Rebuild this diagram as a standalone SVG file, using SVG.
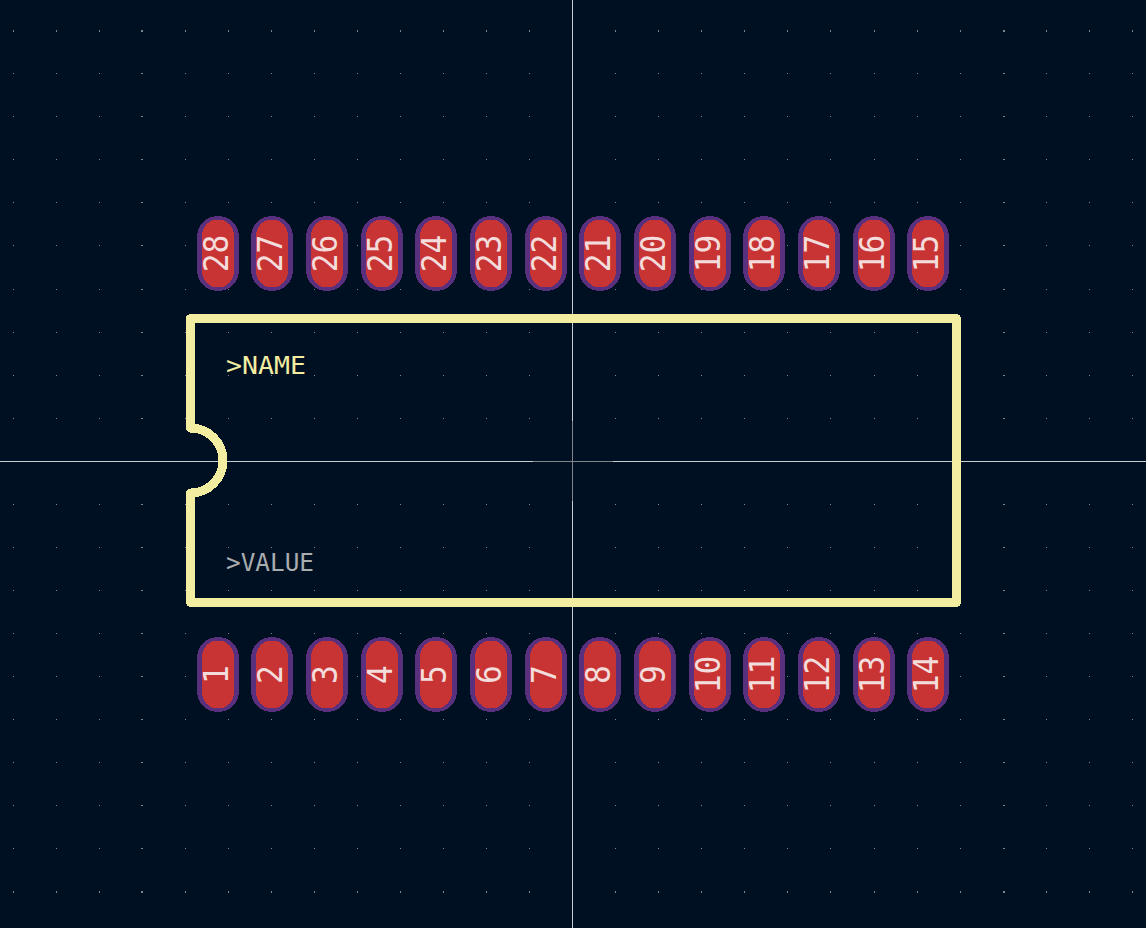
<svg xmlns="http://www.w3.org/2000/svg" width="1146" height="928" viewBox="0 0 1146 928">
<style>
.o{fill:#59307d;shape-rendering:crispEdges}
.i{fill:#c83434;shape-rendering:crispEdges}
.n{font-family:"DejaVu Sans Mono","Liberation Mono",monospace;font-size:33px;fill:#f3dcdc;text-anchor:middle;transform:rotate(-90deg) scale(.95,1)}
.d{fill:#7c868c;shape-rendering:crispEdges}
.s{fill:none;stroke:#f2eda1;stroke-width:9;stroke-linejoin:round;stroke-linecap:round;shape-rendering:crispEdges}
.t{font-family:"DejaVu Sans Mono","Liberation Mono",monospace;font-size:25px}
.b{fill:#c8ced0;shape-rendering:crispEdges}
.g{fill:#7f8589;shape-rendering:crispEdges}
</style>
<defs>
<path id="dr" d="M13 0h1v1h-1zM56 0h1v1h-1zM99 0h1v1h-1zM141 0h2v1h-2zM185 0h1v1h-1zM228 0h1v1h-1zM271 0h1v1h-1zM314 0h1v1h-1zM357 0h1v1h-1zM400 0h1v1h-1zM443 0h1v1h-1zM486 0h1v1h-1zM529 0h1v1h-1zM615 0h1v1h-1zM658 0h1v1h-1zM701 0h1v1h-1zM744 0h1v1h-1zM787 0h1v1h-1zM830 0h1v1h-1zM874 0h1v1h-1zM917 0h1v1h-1zM960 0h1v1h-1zM1003 0h2v1h-2zM1046 0h1v1h-1zM1089 0h1v1h-1zM1132 0h1v1h-1z"/>
<rect id="po" class="o" x="-21" y="-37.5" width="42" height="75" rx="21" ry="21"/>
<rect id="pi" class="i" x="-16" y="-34" width="32" height="68" rx="16" ry="16"/>
</defs>
<rect width="1146" height="928" fill="#001023"/>
<g id="grid" class="d">
<use href="#dr" y="30"/><use href="#dr" y="31"/>
<use href="#dr" y="73"/><use href="#dr" y="116"/><use href="#dr" y="159"/><use href="#dr" y="202"/><use href="#dr" y="245"/><use href="#dr" y="289"/><use href="#dr" y="332"/><use href="#dr" y="375"/><use href="#dr" y="418"/><use href="#dr" y="504"/><use href="#dr" y="547"/><use href="#dr" y="590"/><use href="#dr" y="633"/><use href="#dr" y="676"/><use href="#dr" y="719"/><use href="#dr" y="762"/><use href="#dr" y="805"/><use href="#dr" y="848"/>
<use href="#dr" y="891"/><use href="#dr" y="892"/>
</g>
<g id="axes">
<rect class="b" x="0" y="461" width="533" height="1"/>
<rect class="g" x="533" y="461" width="80" height="1"/>
<rect class="b" x="613" y="461" width="533" height="1"/>
<rect class="b" x="572" y="0" width="1" height="421"/>
<rect class="g" x="572" y="421" width="1" height="80"/>
<rect class="b" x="572" y="501" width="1" height="427"/>
</g>
<g id="connectors"></g>
<g id="outline">
<path class="s" d="M190.5 428V318.5H956.5V602.5H190.5V493A32.5 32.5 0 0 0 190.5 428"/>
</g>
<g id="label-name"><text class="t" x="226" y="374" fill="#f2eda1" textLength="80" lengthAdjust="spacingAndGlyphs">&gt;NAME</text></g>
<g id="label-value"><text class="t" x="226" y="571" fill="#a9acae" textLength="88" lengthAdjust="spacingAndGlyphs">&gt;VALUE</text></g>
<g id="pad28" transform="translate(218,253.5)"><use href="#po"/><use href="#pi"/><text class="n" y="10">28</text></g>
<g id="pad27" transform="translate(272,253.5)"><use href="#po"/><use href="#pi"/><text class="n" y="10">27</text></g>
<g id="pad26" transform="translate(327,253.5)"><use href="#po"/><use href="#pi"/><text class="n" y="10">26</text></g>
<g id="pad25" transform="translate(382,253.5)"><use href="#po"/><use href="#pi"/><text class="n" y="10">25</text></g>
<g id="pad24" transform="translate(436,253.5)"><use href="#po"/><use href="#pi"/><text class="n" y="10">24</text></g>
<g id="pad23" transform="translate(491,253.5)"><use href="#po"/><use href="#pi"/><text class="n" y="10">23</text></g>
<g id="pad22" transform="translate(546,253.5)"><use href="#po"/><use href="#pi"/><text class="n" y="10">22</text></g>
<g id="pad21" transform="translate(600,253.5)"><use href="#po"/><use href="#pi"/><text class="n" y="10">21</text></g>
<g id="pad20" transform="translate(655,253.5)"><use href="#po"/><use href="#pi"/><text class="n" y="10">20</text></g>
<g id="pad19" transform="translate(710,253.5)"><use href="#po"/><use href="#pi"/><text class="n" y="10">19</text></g>
<g id="pad18" transform="translate(764,253.5)"><use href="#po"/><use href="#pi"/><text class="n" y="10">18</text></g>
<g id="pad17" transform="translate(819,253.5)"><use href="#po"/><use href="#pi"/><text class="n" y="10">17</text></g>
<g id="pad16" transform="translate(874,253.5)"><use href="#po"/><use href="#pi"/><text class="n" y="10">16</text></g>
<g id="pad15" transform="translate(928,253.5)"><use href="#po"/><use href="#pi"/><text class="n" y="10">15</text></g>
<g id="pad1" transform="translate(218,674.5)"><use href="#po"/><use href="#pi"/><text class="n" y="10">1</text></g>
<g id="pad2" transform="translate(272,674.5)"><use href="#po"/><use href="#pi"/><text class="n" y="10">2</text></g>
<g id="pad3" transform="translate(327,674.5)"><use href="#po"/><use href="#pi"/><text class="n" y="10">3</text></g>
<g id="pad4" transform="translate(382,674.5)"><use href="#po"/><use href="#pi"/><text class="n" y="10">4</text></g>
<g id="pad5" transform="translate(436,674.5)"><use href="#po"/><use href="#pi"/><text class="n" y="10">5</text></g>
<g id="pad6" transform="translate(491,674.5)"><use href="#po"/><use href="#pi"/><text class="n" y="10">6</text></g>
<g id="pad7" transform="translate(546,674.5)"><use href="#po"/><use href="#pi"/><text class="n" y="10">7</text></g>
<g id="pad8" transform="translate(600,674.5)"><use href="#po"/><use href="#pi"/><text class="n" y="10">8</text></g>
<g id="pad9" transform="translate(655,674.5)"><use href="#po"/><use href="#pi"/><text class="n" y="10">9</text></g>
<g id="pad10" transform="translate(710,674.5)"><use href="#po"/><use href="#pi"/><text class="n" y="10">10</text></g>
<g id="pad11" transform="translate(764,674.5)"><use href="#po"/><use href="#pi"/><text class="n" y="10">11</text></g>
<g id="pad12" transform="translate(819,674.5)"><use href="#po"/><use href="#pi"/><text class="n" y="10">12</text></g>
<g id="pad13" transform="translate(874,674.5)"><use href="#po"/><use href="#pi"/><text class="n" y="10">13</text></g>
<g id="pad14" transform="translate(928,674.5)"><use href="#po"/><use href="#pi"/><text class="n" y="10">14</text></g>
</svg>
